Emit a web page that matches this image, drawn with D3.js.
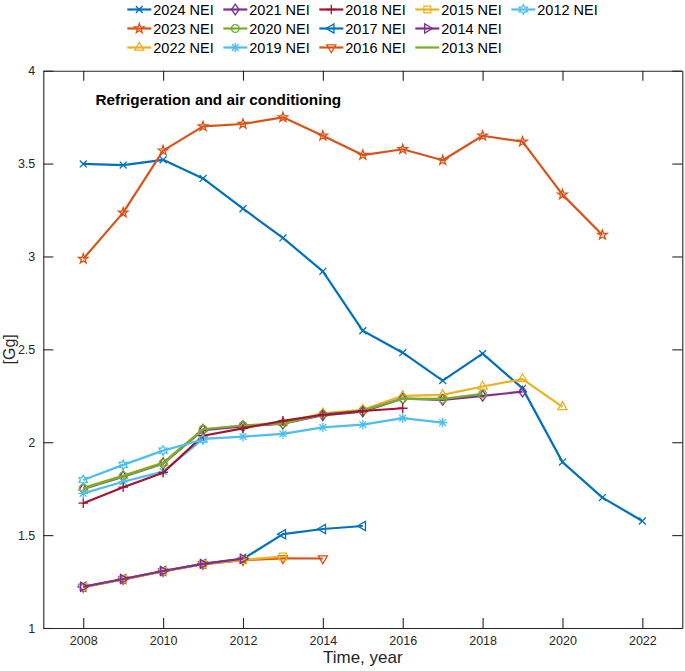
<!DOCTYPE html>
<html>
<head>
<meta charset="utf-8">
<script src="https://cdn.jsdelivr.net/npm/d3@7"></script>
<style>
body { margin: 0; background: #fff; }
text { font-family: "Liberation Sans", Arial, sans-serif; }
</style>
</head>
<body>
<script>
// values in Gg, each inventory starts at 2008
const startYear = 2008;
const nei2024 = [3.498, 3.492, 3.52, 3.42, 3.257, 3.10, 2.92, 2.60, 2.482, 2.332, 2.477, 2.29, 1.893, 1.702, 1.576];
const nei2023 = [2.987, 3.236, 3.57, 3.70, 3.713, 3.749, 3.65, 3.546, 3.577, 3.518, 3.65, 3.618, 3.333, 3.116];
const nei2022 = [1.755, 1.82, 1.89, 2.07, 2.09, 2.105, 2.155, 2.175, 2.25, 2.255, 2.30, 2.34, 2.19];
const nei2021 = [1.748, 1.815, 1.885, 2.065, 2.085, 2.10, 2.145, 2.165, 2.235, 2.228, 2.25, 2.272];
const nei2020 = [1.752, 1.818, 1.887, 2.07, 2.09, 2.10, 2.15, 2.17, 2.235, 2.233, 2.26];
const nei2019 = [1.725, 1.787, 1.842, 2.018, 2.03, 2.045, 2.08, 2.095, 2.13, 2.106];
const nei2018 = [1.672, 1.758, 1.836, 2.035, 2.075, 2.115, 2.148, 2.168, 2.183];
const nei2017 = [1.222, 1.263, 1.307, 1.345, 1.372, 1.505, 1.533, 1.549];
const nei2016 = [1.22, 1.262, 1.305, 1.343, 1.365, 1.375, 1.374];
const nei2015 = [1.221, 1.263, 1.306, 1.344, 1.367, 1.384];
const nei2014 = [1.222, 1.264, 1.307, 1.345, 1.373];
const nei2013 = [1.75, 1.817, 1.886, 2.068];
const nei2012 = [1.797, 1.878, 1.955, 2.015];

const seriesNames = ["2024 NEI", "2023 NEI", "2022 NEI", "2021 NEI", "2020 NEI", "2019 NEI", "2018 NEI",
    "2017 NEI", "2016 NEI", "2015 NEI", "2014 NEI", "2013 NEI", "2012 NEI"];
const seriesValues = [nei2024, nei2023, nei2022, nei2021, nei2020, nei2019, nei2018,
    nei2017, nei2016, nei2015, nei2014, nei2013, nei2012];
const seriesColors = ["#0072BD", "#D95319", "#EDB120", "#7E2F8E", "#77AC30", "#4DBEEE", "#A2142F",
    "#0072BD", "#D95319", "#EDB120", "#7E2F8E", "#77AC30", "#4DBEEE"];
const seriesMarkers = ["x", "pentagram", "up", "diamond", "circle", "star", "plus",
    "left", "down", "square", "right", "none", "hexagram"];

const xTicks = [2008, 2010, 2012, 2014, 2016, 2018, 2020, 2022];
const yTicks = [1, 1.5, 2, 2.5, 3, 3.5, 4];

const width = 685, height = 671;
const margin = { top: 70.7, right: 2.7, bottom: 43, left: 43.3 };

const xScale = d3.scaleLinear().domain([2007, 2023]).range([margin.left, width - margin.right]);
const yScale = d3.scaleLinear().domain([1, 4]).range([height - margin.bottom, margin.top]);

const svg = d3.select("body").append("svg")
    .attr("width", width)
    .attr("height", height);

// marker shapes, centred on 0,0
function starPath(points, outer, inner, rot) {
    let p = [];
    for (let i = 0; i < points * 2; i++) {
        const r = i % 2 === 0 ? outer : inner;
        const a = rot + i * Math.PI / points;
        p.push([r * Math.cos(a), r * Math.sin(a)]);
    }
    return "M" + p.map(d => d[0].toFixed(2) + "," + d[1].toFixed(2)).join("L") + "Z";
}
function tri(r, angle) {
    let p = [];
    for (let i = 0; i < 3; i++) {
        const a = angle + i * 2 * Math.PI / 3;
        p.push([r * Math.cos(a), r * Math.sin(a)]);
    }
    return "M" + p.map(d => d[0].toFixed(2) + "," + d[1].toFixed(2)).join("L") + "Z";
}
function markerPath(type) {
    const r = 4.8;
    const c = r * 0.72;
    switch (type) {
        case "x": return `M${-c},${-c}L${c},${c}M${-c},${c}L${c},${-c}`;
        case "plus": return `M${-r},0H${r}M0,${-r}V${r}`;
        case "star": return `M${-r},0H${r}M0,${-r}V${r}M${-c},${-c}L${c},${c}M${-c},${c}L${c},${-c}`;
        case "circle": return d3.symbol(d3.symbolCircle, Math.PI * 3.9 * 3.9)();
        case "diamond": return `M0,${-r * 1.1}L${r * 0.8},0L0,${r * 1.1}L${-r * 0.8},0Z`;
        case "square": return `M${-c},${-c}H${c}V${c}H${-c}Z`;
        case "up": return tri(r * 1.1, -Math.PI / 2);
        case "down": return tri(r * 1.1, Math.PI / 2);
        case "left": return tri(r * 1.1, Math.PI);
        case "right": return tri(r * 1.1, 0);
        case "pentagram": return starPath(5, r * 1.05, r * 0.42, -Math.PI / 2);
        case "hexagram": return starPath(6, r * 1.0, r * 0.58, -Math.PI / 2);
        default: return null;
    }
}

const series = seriesNames.map((name, i) => ({
    name: name,
    color: seriesColors[i],
    marker: seriesMarkers[i],
    points: seriesValues[i].map((v, j) => ({ year: startYear + j, value: v }))
}));

// axes box
const axisColor = "#262626";

const xAxis = svg.append("g")
    .attr("transform", `translate(0,${height - margin.bottom})`)
    .call(d3.axisBottom(xScale).tickValues(xTicks).tickFormat(d3.format("d")).tickSizeInner(-10).tickSizeOuter(0).tickPadding(8));
const xAxisTop = svg.append("g")
    .attr("transform", `translate(0,${margin.top})`)
    .call(d3.axisTop(xScale).tickValues(xTicks).tickFormat("").tickSizeInner(-10).tickSizeOuter(0));
const yAxis = svg.append("g")
    .attr("transform", `translate(${margin.left},0)`)
    .call(d3.axisLeft(yScale).tickValues(yTicks).tickFormat(d => d).tickSizeInner(-10).tickSizeOuter(0).tickPadding(8));
const yAxisRight = svg.append("g")
    .attr("transform", `translate(${width - margin.right},0)`)
    .call(d3.axisRight(yScale).tickValues(yTicks).tickFormat("").tickSizeInner(-10).tickSizeOuter(0));

[xAxis, xAxisTop, yAxis, yAxisRight].forEach(g => {
    g.select(".domain").attr("stroke", axisColor).attr("stroke-width", 1.1);
    g.selectAll(".tick line").attr("stroke", axisColor).attr("stroke-width", 1.1);
    g.selectAll(".tick text").attr("fill", axisColor).style("font-size", "12.5px")
        .style("font-family", "'Liberation Sans', Arial, sans-serif");
});

// lines and markers
const line = d3.line().x(d => xScale(d.year)).y(d => yScale(d.value));
const plot = svg.append("g");

series.forEach(s => {
    const g = plot.append("g");
    g.append("path")
        .datum(s.points)
        .attr("d", line)
        .attr("fill", "none")
        .attr("stroke", s.color)
        .attr("stroke-width", 2.2)
        .attr("stroke-linejoin", "round");
    if (s.marker !== "none") {
        g.selectAll("path.mk")
            .data(s.points)
            .join("path")
            .attr("class", "mk")
            .attr("transform", d => `translate(${xScale(d.year)},${yScale(d.value)})`)
            .attr("d", markerPath(s.marker))
            .attr("fill", "none")
            .attr("stroke", s.color)
            .attr("stroke-width", 1.3);
    }
});

// title and axis labels
svg.append("text")
    .attr("x", 95.5)
    .attr("y", 104.5)
    .style("font-size", "15.3px")
    .style("font-weight", "bold")
    .attr("fill", "#000")
    .text("Refrigeration and air conditioning");

svg.append("text")
    .attr("x", (margin.left + width - margin.right) / 2)
    .attr("y", 663)
    .attr("text-anchor", "middle")
    .style("font-size", "17px")
    .attr("fill", axisColor)
    .text("Time, year");

svg.append("text")
    .attr("transform", `translate(15,${(margin.top + height - margin.bottom) / 2}) rotate(-90)`)
    .attr("text-anchor", "middle")
    .style("font-size", "16px")
    .attr("fill", axisColor)
    .text("[Gg]");

// legend, three rows filled column by column
const legendRows = 3;
const legendX0 = 127.3, legendColW = 96, legendY0 = 9.5, legendRowH = 19;
const legend = svg.append("g");
series.forEach((s, i) => {
    const col = Math.floor(i / legendRows), row = i % legendRows;
    const lx = legendX0 + col * legendColW, ly = legendY0 + row * legendRowH;
    const item = legend.append("g").attr("transform", `translate(${lx},${ly})`);
    item.append("line")
        .attr("x1", 0).attr("x2", 24)
        .attr("stroke", s.color)
        .attr("stroke-width", 2.2);
    if (s.marker !== "none") {
        item.append("path")
            .attr("transform", "translate(12,0)")
            .attr("d", markerPath(s.marker))
            .attr("fill", "none")
            .attr("stroke", s.color)
            .attr("stroke-width", 1.3);
    }
    item.append("text")
        .attr("x", 26)
        .attr("dy", "0.36em")
        .style("font-size", "14.5px")
        .attr("fill", "#000")
        .text(s.name);
});
</script>
</body>
</html>
